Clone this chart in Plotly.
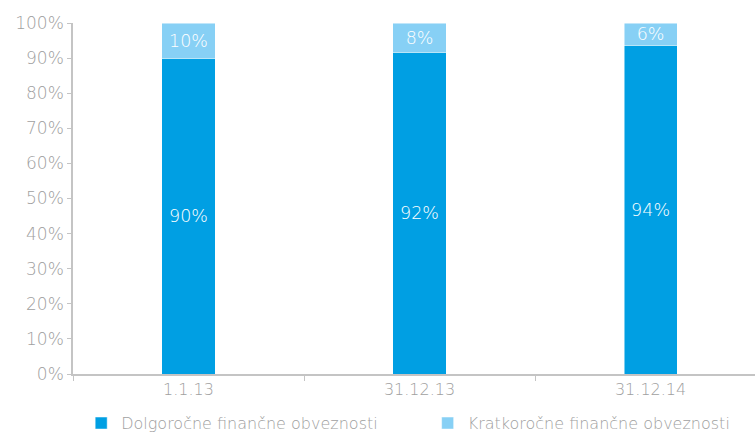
import plotly.graph_objects as go

categories = ["1.1.13", "31.12.13", "31.12.14"]
dolgorocne = [90.0, 91.6, 93.6]
kratkorocne = [10.0, 8.4, 6.4]
series_names = ["Dolgoročne finančne obveznosti", "Kratkoročne finančne obveznosti"]
y_ticks = [0, 10, 20, 30, 40, 50, 60, 70, 80, 90, 100]
y_tick_labels = [f"{v}%" for v in y_ticks]

DARK = "#009fe3"
LIGHT = "#87d0f5"
GRAY = "#a0a0a0"
AXIS = "#c4c4c4"
FONT = "DejaVu Sans"
W = 200

fig = go.Figure()
for name, vals, col, leg in [(series_names[0], dolgorocne, DARK, "legend"),
                             (series_names[1], kratkorocne, LIGHT, "legend2")]:
    fig.add_trace(go.Bar(
        x=categories, y=vals, name=name, legend=leg,
        marker=dict(color=col, line=dict(color="rgba(255,255,255,0.6)", width=0.8)),
        width=0.23,
        texttemplate="%{y:.0f}%", textposition="inside", insidetextanchor="middle",
        constraintext="none",
        textfont=dict(color="white", size=17.5, family=FONT, weight=W),
        hoverinfo="skip",
    ))

legend_style = dict(orientation="h", xanchor="left", y=-0.14, yanchor="middle",
                    font=dict(size=16, color=GRAY, family=FONT, weight=W),
                    itemwidth=30, bgcolor="rgba(0,0,0,0)")

fig.update_layout(
    barmode="stack",
    width=755, height=432,
    margin=dict(l=73, r=0, t=23, b=58, autoexpand=False),
    paper_bgcolor="white", plot_bgcolor="white",
    font=dict(family=FONT, color=GRAY, size=16, weight=W),
    uniformtext=dict(minsize=17.5, mode="show"),
    showlegend=True,
    legend=dict(x=0.012, **legend_style),
    legend2=dict(x=0.52, **legend_style),
)
fig.update_xaxes(
    type="category", range=[-0.5, 2.452], automargin=False,
    showline=True, linecolor=AXIS, linewidth=1.5,
    ticks="outside", tickson="boundaries", ticklen=5, tickcolor=AXIS,
    showgrid=False, tickfont=dict(size=16, color=GRAY, family=FONT, weight=W),
)
fig.update_yaxes(
    range=[0, 100], tickvals=y_ticks, ticktext=y_tick_labels, automargin=False,
    showline=True, linecolor=AXIS, linewidth=1.5,
    ticks="outside", ticklen=4, tickcolor=AXIS,
    showgrid=False, zeroline=False,
    tickfont=dict(size=17, color=GRAY, family=FONT, weight=W),
)

fig.write_html("out.html", config={"displayModeBar": False},
               post_script="document.body.style.margin='0';")
